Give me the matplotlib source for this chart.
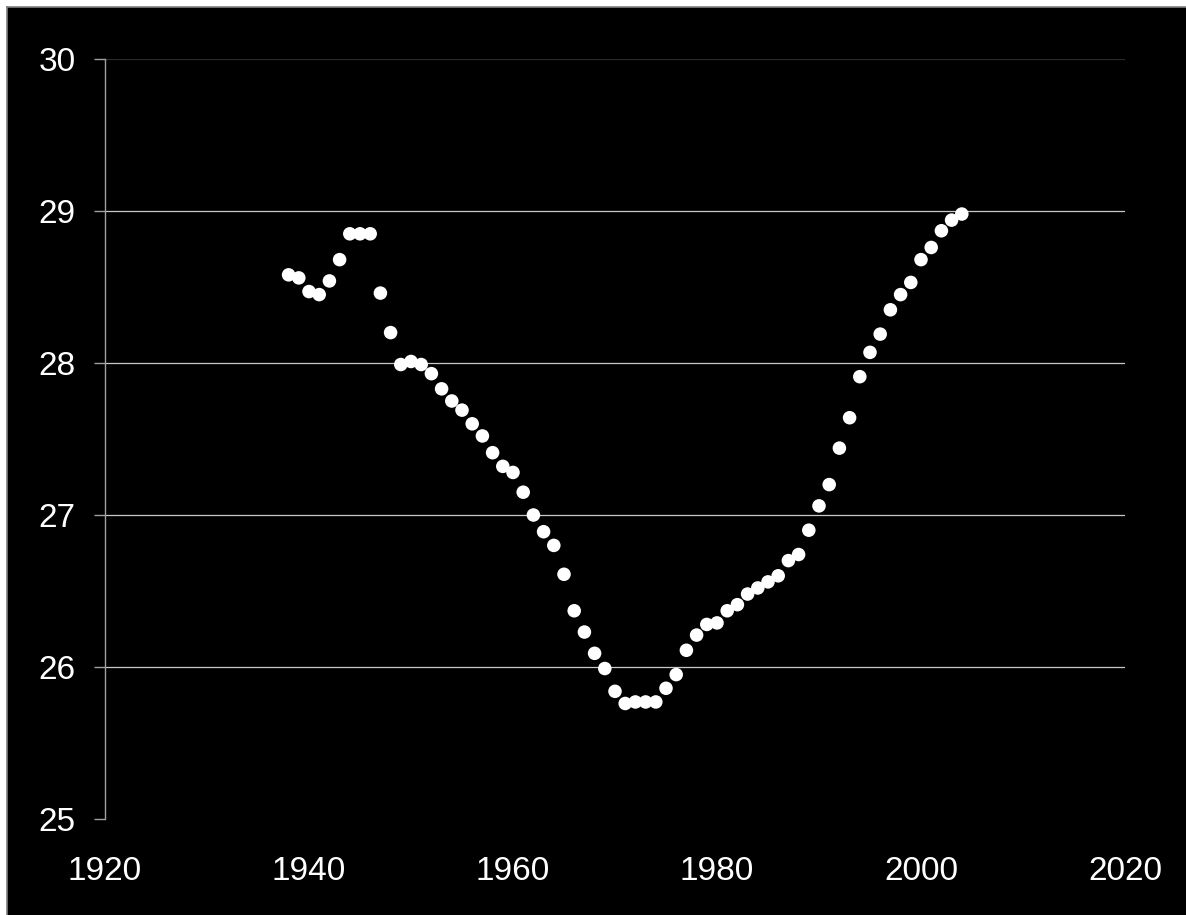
import matplotlib
matplotlib.use("Agg")
import matplotlib.pyplot as plt
from matplotlib.patches import Rectangle

years = list(range(1938, 2005))
values = [28.58, 28.56, 28.47, 28.45, 28.54, 28.68, 28.85, 28.85, 28.85, 28.46,
          28.20, 27.99, 28.01, 27.99, 27.93, 27.83, 27.75, 27.69, 27.60, 27.52,
          27.41, 27.32, 27.28, 27.15, 27.00, 26.89, 26.80, 26.61, 26.37, 26.23,
          26.09, 25.99, 25.84, 25.76, 25.77, 25.77, 25.77, 25.86, 25.95, 26.11,
          26.21, 26.28, 26.29, 26.37, 26.41, 26.48, 26.52, 26.56, 26.60, 26.70,
          26.74, 26.90, 27.06, 27.20, 27.44, 27.64, 27.91, 28.07, 28.19, 28.35,
          28.45, 28.53, 28.68, 28.76, 28.87, 28.94, 28.98]
x_ticks = [1920, 1940, 1960, 1980, 2000, 2020]
y_ticks = [25, 26, 27, 28, 29, 30]

plt.rcParams['font.family'] = ['Liberation Sans', 'DejaVu Sans']

W, H = 1186, 915
fig = plt.figure(figsize=(W / 100, H / 100), dpi=100, facecolor='white')
fig.add_artist(Rectangle((7 / W, 0), 1 - 7 / W, 1 - 7 / H, transform=fig.transFigure,
                         facecolor='black', edgecolor='none', zorder=-10))
fig.add_artist(plt.Line2D([7 / W, 1], [1 - 7 / H, 1 - 7 / H], transform=fig.transFigure,
                          color='#808080', lw=1.2, zorder=-9))
fig.add_artist(plt.Line2D([7 / W, 7 / W], [0, 1 - 7 / H], transform=fig.transFigure,
                          color='#808080', lw=1.2, zorder=-9))

ax = fig.add_axes([105 / W, 1 - 819 / H, (1125 - 105) / W, (819 - 59) / H])
ax.set_zorder(1)
ax.set_facecolor('black')
ax.set_xlim(1920, 2020)
ax.set_ylim(25, 30)

for y in y_ticks[1:]:
    c = '#2a2a2a' if y == 30 else '#c8c8c8'
    ax.axhline(y, color=c, lw=0.9, zorder=1)

ax.scatter(years, values, s=95, color='white', edgecolors='none', zorder=3, clip_on=False)

for side in ['top', 'right', 'bottom']:
    ax.spines[side].set_visible(False)
ax.spines['left'].set_color('#a0a0a0')
ax.spines['left'].set_linewidth(1.0)

ax.set_xticks(x_ticks)
ax.set_yticks(y_ticks)
ax.set_xticklabels([str(v) for v in x_ticks])
ax.set_yticklabels([str(v) for v in y_ticks])
ax.tick_params(axis='x', length=0, pad=27, labelsize=24, labelcolor='white')
ax.tick_params(axis='y', length=8, width=1.0, color='#a0a0a0', pad=13,
               labelsize=24, labelcolor='white')

fig.savefig('out.png', dpi=100, facecolor='white')
